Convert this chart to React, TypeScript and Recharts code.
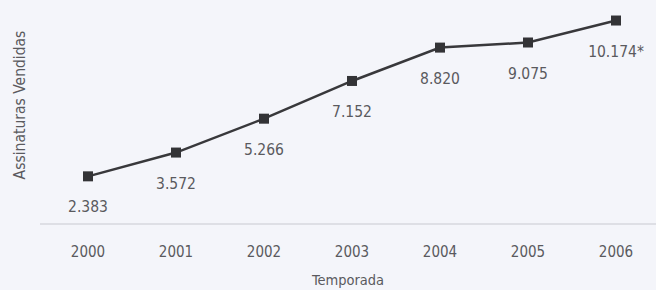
import { LineChart, Line, XAxis, YAxis, Label, LabelList } from 'recharts';

const seasons = ['2000', '2001', '2002', '2003', '2004', '2005', '2006'];
const sold = [2383, 3572, 5266, 7152, 8820, 9075, 10174];
const soldLabels = ['2.383', '3.572', '5.266', '7.152', '8.820', '9.075', '10.174*'];

const data = seasons.map((s, i) => ({ season: s, sold: sold[i], label: soldLabels[i] }));

const FONT = '"DejaVu Sans Condensed", "Liberation Sans Narrow", "Liberation Sans", sans-serif';
const TEXT = '#5a5a5e';

const SquareDot = (props: any) => {
  const { cx, cy } = props;
  return <rect x={cx - 5} y={cy - 5} width={10} height={10} fill="#333336" />;
};

const XTick = (props: any) => {
  const { x, y, payload } = props;
  return (
    <text x={x} y={y + 28} textAnchor="middle" dominantBaseline="central" fontSize={15} fill={TEXT} fontFamily={FONT}>
      {payload.value}
    </text>
  );
};

const PointLabel = (props: any) => {
  const { x, y, value } = props;
  return (
    <text x={x} y={y + 31} textAnchor="middle" dominantBaseline="central" fontSize={15.5} fill={TEXT} fontFamily={FONT}>
      {value}
    </text>
  );
};

const XTitle = (props: any) => {
  const { viewBox } = props;
  return (
    <text x={viewBox.x + viewBox.width / 2} y={viewBox.y + 56} textAnchor="middle" dominantBaseline="central" fontSize={14.5} fill={TEXT} fontFamily={FONT}>
      Temporada
    </text>
  );
};

const YTitle = (props: any) => {
  const { viewBox } = props;
  const cx = viewBox.x + 20;
  const cy = viewBox.y + 101;
  return (
    <text x={cx} y={cy} transform={`rotate(-90 ${cx} ${cy})`} textAnchor="middle" dominantBaseline="central" fontSize={15.5} fill={TEXT} fontFamily={FONT}>
      Assinaturas Vendidas
    </text>
  );
};

export default function App() {
  return (
    <div style={{ position: 'absolute', left: 0, top: 0, width: 656, height: 290, background: '#f4f5fa' }}>
      <LineChart width={656} height={290} data={data} margin={{ top: 4, right: 0, bottom: 0, left: 0 }}>
        <XAxis
          dataKey="season"
          height={66}
          padding={{ left: 48, right: 40 }}
          tickLine={false}
          tickSize={0}
          tickMargin={0}
          tick={<XTick />}
          axisLine={{ stroke: '#c8c9d0', strokeWidth: 1.2 }}
        >
          <Label content={<XTitle />} />
        </XAxis>
        <YAxis width={40} domain={[0, 11000]} tick={false} axisLine={false} tickLine={false}>
          <Label content={<YTitle />} />
        </YAxis>
        <Line
          dataKey="sold"
          stroke="#38383b"
          strokeWidth={2.5}
          dot={<SquareDot />}
          activeDot={false}
          isAnimationActive={false}
        >
          <LabelList dataKey="label" content={<PointLabel />} />
        </Line>
      </LineChart>
    </div>
  );
}
